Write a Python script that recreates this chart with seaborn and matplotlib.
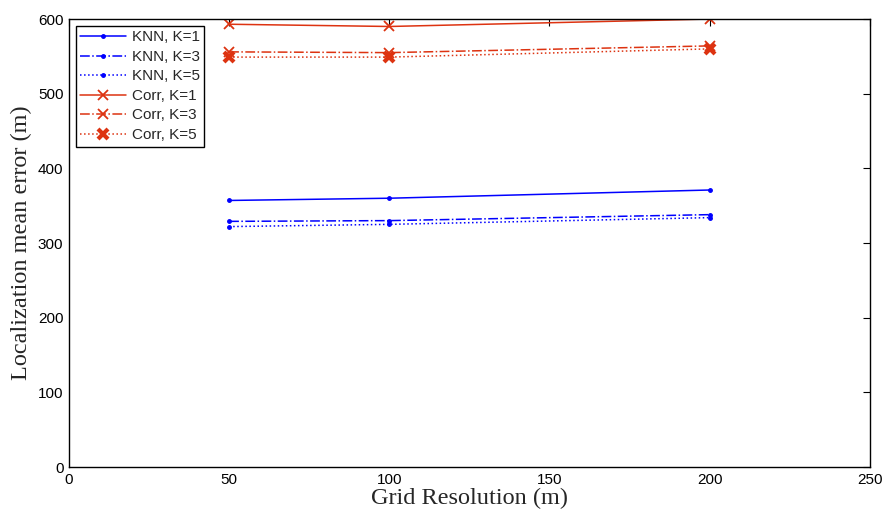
import matplotlib
matplotlib.use("Agg")
import matplotlib.pyplot as plt
import seaborn as sns
import pandas as pd

grid_res = [50, 100, 200]
knn_k1 = [357, 360, 371]
knn_k3 = [329, 330, 338]
knn_k5 = [322, 325, 334]
corr_k1 = [593, 590, 600]
corr_k3 = [556, 555, 564]
corr_k5 = [549, 549, 560]

series_names = ["KNN, K=1", "KNN, K=3", "KNN, K=5", "Corr, K=1", "Corr, K=3", "Corr, K=5"]
series_values = [knn_k1, knn_k3, knn_k5, corr_k1, corr_k3, corr_k5]

sns.set_style("white")
plt.rcParams["font.family"] = ["Liberation Sans", "DejaVu Sans"]

blue = "#0000ff"
red = "#dd3311"
styles = [
    dict(color=blue, linestyle="-", marker=".", markersize=5, mew=1),
    dict(color=blue, linestyle="-.", marker=".", markersize=5, mew=1),
    dict(color=blue, linestyle=":", marker=".", markersize=5, mew=1),
    dict(color=red, linestyle="-", marker="x", markersize=7, mew=1.3),
    dict(color=red, linestyle="-.", marker="x", markersize=7, mew=1.3),
    dict(color=red, linestyle=":", marker="x", markersize=7, mew=3.0),
]

fig = plt.figure(figsize=(8.84, 5.14), dpi=100)
ax = fig.add_axes([0.078, 0.0914, 0.906, 0.8716])

for name, vals, st in zip(series_names, series_values, styles):
    df = pd.DataFrame({"x": grid_res, "y": vals})
    sns.lineplot(data=df, x="x", y="y", ax=ax, label=name, linewidth=1.1,
                 markeredgecolor=st["color"], **st)

ax.set_xlim(0, 250)
ax.set_ylim(0, 600)
ax.set_xticks([0, 50, 100, 150, 200, 250])
ax.set_yticks([0, 100, 200, 300, 400, 500, 600])
ax.tick_params(direction="in", top=True, right=True, length=5, width=0.8,
               labelsize=11, colors="black", pad=4)
for sp in ax.spines.values():
    sp.set_color("black")
    sp.set_linewidth(1.0)

ax.set_xlabel("Grid Resolution (m)", fontsize=17.5, family="Liberation Serif", labelpad=1)
ax.set_ylabel("Localization mean error (m)", fontsize=17.5, family="Liberation Serif", labelpad=4)

leg = ax.legend(loc="upper left", fontsize=11, frameon=True, fancybox=False,
                edgecolor="black", framealpha=1, borderpad=0.3, labelspacing=0.36,
                handlelength=3.0, handletextpad=0.35, borderaxespad=0.45)
leg.get_frame().set_linewidth(1.0)

fig.savefig("out.png", dpi=100)
